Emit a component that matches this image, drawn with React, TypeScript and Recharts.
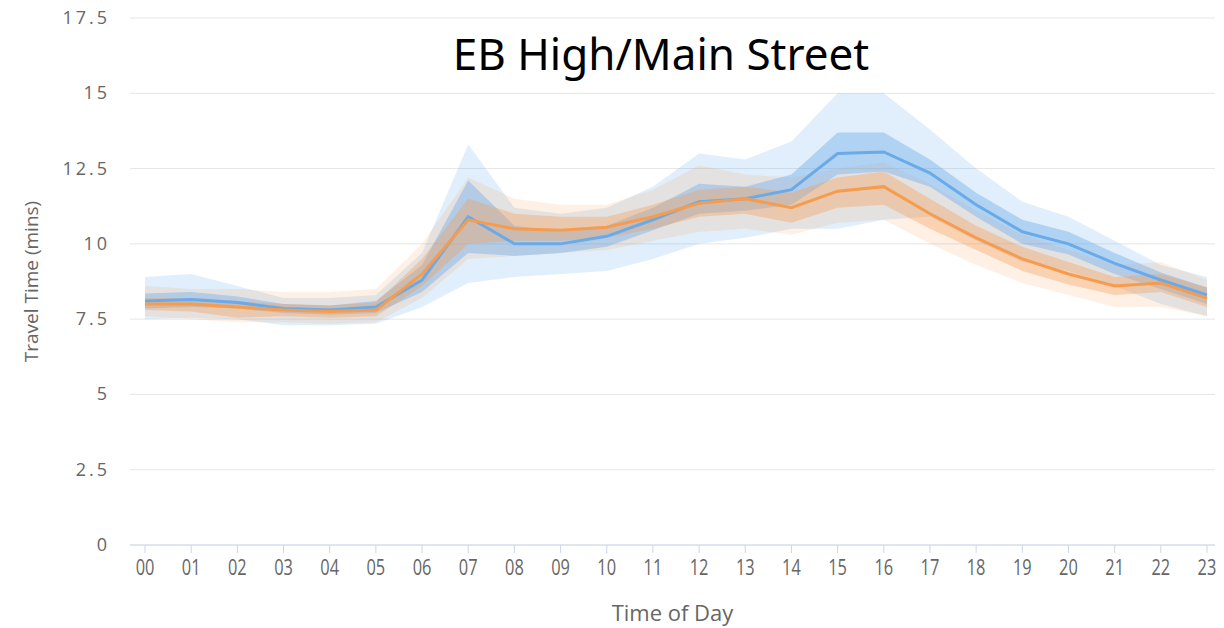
import { ComposedChart, Area, Line, XAxis, YAxis, CartesianGrid } from 'recharts';

const hours = ['00', '01', '02', '03', '04', '05', '06', '07', '08', '09', '10', '11', '12', '13', '14', '15', '16', '17', '18', '19', '20', '21', '22', '23'];
const yTicks = [0, 2.5, 5, 7.5, 10, 12.5, 15, 17.5];

const blueMid = [8.1, 8.15, 8.05, 7.85, 7.8, 7.9, 8.8, 10.9, 10.0, 10.0, 10.25, 10.8, 11.4, 11.5, 11.8, 13.0, 13.05, 12.35, 11.3, 10.4, 10.0, 9.35, 8.8, 8.3];
const blueInLo = [7.85, 7.9, 7.85, 7.7, 7.65, 7.7, 8.4, 9.7, 9.6, 9.7, 9.9, 10.45, 11.0, 11.1, 11.3, 12.3, 12.4, 11.9, 10.9, 10.0, 9.65, 9.0, 8.5, 8.0];
const blueInHi = [8.35, 8.4, 8.25, 8.0, 7.95, 8.1, 9.3, 12.1, 10.6, 10.4, 10.6, 11.2, 12.0, 11.9, 12.3, 13.7, 13.7, 12.8, 11.7, 10.8, 10.4, 9.7, 9.05, 8.55];
const blueOutLo = [7.5, 7.55, 7.5, 7.3, 7.3, 7.35, 7.9, 8.7, 8.9, 9.0, 9.1, 9.5, 10.0, 10.2, 10.5, 10.5, 10.8, 10.9, 10.1, 9.4, 9.1, 8.6, 8.0, 7.6];
const blueOutHi = [8.9, 9.0, 8.6, 8.2, 8.2, 8.3, 9.7, 13.3, 11.2, 11.0, 11.2, 11.9, 13.0, 12.8, 13.4, 15.0, 15.0, 13.8, 12.5, 11.4, 10.9, 10.1, 9.3, 8.9];

const orangeMid = [8.0, 8.0, 7.9, 7.8, 7.75, 7.8, 9.0, 10.8, 10.5, 10.45, 10.55, 10.9, 11.35, 11.5, 11.2, 11.75, 11.9, 11.0, 10.2, 9.5, 9.0, 8.6, 8.7, 8.2];
const orangeInLo = [7.8, 7.75, 7.55, 7.6, 7.55, 7.6, 8.6, 10.0, 10.1, 10.1, 10.2, 10.5, 10.9, 11.0, 10.7, 11.2, 11.3, 10.5, 9.8, 9.1, 8.65, 8.3, 8.4, 7.9];
const orangeInHi = [8.2, 8.2, 8.1, 8.0, 7.95, 8.05, 9.5, 11.5, 11.0, 10.9, 10.9, 11.3, 11.8, 11.9, 11.7, 12.2, 12.4, 11.5, 10.6, 9.9, 9.4, 8.9, 9.0, 8.55];
const orangeOutLo = [7.6, 7.5, 7.4, 7.4, 7.35, 7.4, 8.2, 9.5, 9.6, 9.7, 9.8, 10.1, 10.4, 10.5, 10.3, 10.7, 10.8, 10.0, 9.3, 8.7, 8.3, 7.9, 7.9, 7.6];
const orangeOutHi = [8.6, 8.5, 8.5, 8.4, 8.4, 8.5, 10.0, 12.2, 11.5, 11.3, 11.3, 11.8, 12.6, 12.3, 12.2, 12.5, 12.7, 12.0, 11.1, 10.3, 9.8, 9.3, 9.4, 8.8];

const data = hours.map((h, i) => ({
  hour: h,
  blue: blueMid[i],
  blueIn: [blueInLo[i], blueInHi[i]],
  blueOut: [blueOutLo[i], blueOutHi[i]],
  orange: orangeMid[i],
  orangeIn: [orangeInLo[i], orangeInHi[i]],
  orangeOut: [orangeOutLo[i], orangeOutHi[i]],
}));

const BLUE = '#6aaae9';
const ORANGE = '#f59c4f';
const FONT = '"Open Sans", sans-serif';

const XTick = (props: any) => {
  const { x, y, payload } = props;
  return (
    <text x={x} y={y} textAnchor="middle" fill="#666" fontSize={21} fontFamily={FONT}
      transform={`translate(${x} ${y}) scale(0.78 1) translate(${-x} ${-y})`} dy={16}>
      {payload.value}
    </text>
  );
};

const YTick = (props: any) => {
  const { x, y, payload } = props;
  return (
    <text x={x} y={y} textAnchor="end" fill="#666" fontSize={18} fontFamily={FONT} letterSpacing={3} dy={6}>
      {payload.value}
    </text>
  );
};

export default function App() {
  return (
    <div style={{ position: 'absolute', left: 0, top: 0, width: 1224, height: 628, background: '#fff' }}>
      <div style={{ position: 'absolute', left: 0, width: 1322, top: 31, lineHeight: '44px', textAlign: 'center', fontFamily: '"Noto Sans", sans-serif', fontSize: 44, color: '#000', zIndex: 2, pointerEvents: 'none' }}>
        EB High/Main Street
      </div>
      <ComposedChart width={1224} height={628} data={data} margin={{ top: 18, right: 9, bottom: 0, left: 0 }}>
        <CartesianGrid vertical={false} stroke="#e6e6e6" />
        <XAxis
          dataKey="hour"
          height={83}
          padding={{ left: 15, right: 8 }}
          stroke="#ccd6eb"
          tickSize={8}
          tickMargin={6}
          interval={0}
          tick={<XTick />}
          label={{ value: 'Time of Day', position: 'insideBottom', offset: 7, fill: '#666', fontSize: 22, fontFamily: FONT }}
        />
        <YAxis
          width={130}
          domain={[0, 17.5]}
          ticks={yTicks}
          axisLine={false}
          tickLine={false}
          tickSize={0}
          tickMargin={20}
          tick={<YTick />}
          label={{ value: 'Travel Time (mins)', angle: -90, position: 'insideLeft', offset: 31, fill: '#666', fontSize: 19, fontFamily: FONT, style: { textAnchor: 'middle' } }}
        />
        <Area dataKey="blueOut" type="linear" stroke="none" fill={BLUE} fillOpacity={0.2} isAnimationActive={false} />
        <Area dataKey="orangeOut" type="linear" stroke="none" fill={ORANGE} fillOpacity={0.15} isAnimationActive={false} />
        <Area dataKey="blueIn" type="linear" stroke="none" fill={BLUE} fillOpacity={0.4} isAnimationActive={false} />
        <Area dataKey="orangeIn" type="linear" stroke="none" fill={ORANGE} fillOpacity={0.35} isAnimationActive={false} />
        <Line dataKey="blue" type="linear" stroke={BLUE} strokeWidth={3} dot={false} activeDot={false} isAnimationActive={false} />
        <Line dataKey="orange" type="linear" stroke={ORANGE} strokeWidth={3} dot={false} activeDot={false} isAnimationActive={false} />
      </ComposedChart>
    </div>
  );
}
